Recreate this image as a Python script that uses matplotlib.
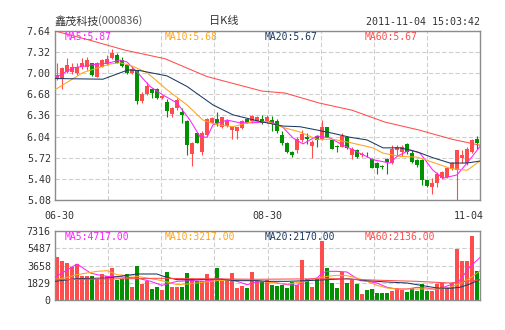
"""
Daily K-line chart for 鑫茂科技 (000836) with price / volume moving averages.
"""
import matplotlib
matplotlib.use("Agg")
import matplotlib.pyplot as plt
import matplotlib.transforms as mtransforms

plt.rcParams['font.family'] = ['DejaVu Sans Mono', 'Noto Sans CJK SC']

STOCK_NAME = "鑫茂科技"
STOCK_CODE = "(000836)"
CHART_TYPE = "日K线"
TIMESTAMP = "2011-11-04 15:03:42"
DATE_LABELS = ["06-30", "08-30", "11-04"]
DATE_POS = [0.4, 42, 85.3]

# daily OHLC, 06-30 .. 11-04
opens = [6.93, 6.91, 7.02, 7.02, 7.00, 7.09, 7.10, 7.15, 6.95, 7.10,
         7.14, 7.23, 7.28, 7.20, 7.12, 7.00, 7.03, 6.58, 6.68, 6.76,
         6.76, 6.62, 6.57, 6.38, 6.47, 6.42, 6.27, 5.78, 6.09, 5.81,
         6.07, 6.25, 6.30, 6.19, 6.20, 6.14, 6.12, 6.17, 6.30, 6.27,
         6.27, 6.31, 6.27, 6.29, 6.28, 6.07, 5.95, 5.80, 5.83, 5.99,
         6.03, 5.90, 6.05, 6.01, 6.18, 5.99, 5.89, 5.89, 6.03, 5.76,
         5.84, 5.76, 5.78, 5.70, 5.64, 5.59, 5.70, 5.64, 5.83, 5.81,
         5.93, 5.79, 5.69, 5.69, 5.38, 5.28, 5.33, 5.41, 5.43, 5.55,
         5.53, 5.71, 5.64, 5.81, 6.00]
highs = [7.16, 7.10, 7.23, 7.15, 7.15, 7.23, 7.25, 7.16, 7.17, 7.22,
         7.28, 7.36, 7.30, 7.25, 7.14, 7.10, 7.05, 6.72, 6.86, 6.77,
         6.77, 6.67, 6.61, 6.49, 6.62, 6.47, 6.29, 5.96, 6.10, 6.12,
         6.32, 6.34, 6.42, 6.34, 6.30, 6.20, 6.19, 6.29, 6.32, 6.37,
         6.35, 6.37, 6.36, 6.35, 6.30, 6.12, 5.96, 5.82, 6.03, 6.14,
         6.09, 5.99, 6.07, 6.29, 6.19, 6.00, 5.92, 6.09, 6.05, 5.89,
         5.85, 5.80, 5.81, 5.71, 5.65, 5.61, 5.71, 5.91, 5.91, 5.92,
         5.94, 5.84, 5.70, 5.70, 5.39, 5.41, 5.51, 5.52, 5.58, 5.65,
         5.84, 5.84, 5.89, 6.01, 6.05]
lows = [6.90, 6.76, 7.00, 6.99, 6.97, 7.06, 7.05, 6.96, 6.94, 7.09,
        7.13, 7.21, 7.15, 7.10, 6.99, 6.99, 6.54, 6.55, 6.67, 6.62,
        6.61, 6.61, 6.34, 6.34, 6.45, 6.24, 5.76, 5.60, 5.94, 5.76,
        6.04, 6.24, 6.20, 6.17, 6.19, 6.00, 6.01, 6.15, 6.24, 6.24,
        6.26, 6.23, 6.24, 6.13, 6.10, 5.92, 5.79, 5.73, 5.79, 5.96,
        5.93, 5.71, 5.88, 5.99, 6.03, 5.85, 5.81, 5.88, 5.86, 5.70,
        5.71, 5.73, 5.73, 5.56, 5.48, 5.55, 5.48, 5.62, 5.74, 5.74,
        5.78, 5.64, 5.58, 5.31, 5.28, 5.17, 5.28, 5.40, 5.42, 5.53,
        5.08, 5.64, 5.61, 5.79, 5.86]
closes = [6.98, 7.08, 7.12, 7.10, 7.10, 7.16, 7.20, 6.97, 7.16, 7.20,
          7.22, 7.31, 7.16, 7.11, 7.00, 7.06, 6.58, 6.68, 6.81, 6.70,
          6.62, 6.66, 6.43, 6.48, 6.60, 6.37, 5.91, 5.95, 5.95, 6.10,
          6.30, 6.32, 6.24, 6.33, 6.28, 6.19, 6.18, 6.28, 6.25, 6.35,
          6.33, 6.25, 6.33, 6.25, 6.12, 5.95, 5.81, 5.76, 6.01, 6.08,
          6.00, 5.96, 5.99, 6.18, 6.04, 5.85, 5.88, 6.05, 5.87, 5.85,
          5.73, 5.77, 5.77, 5.57, 5.56, 5.58, 5.65, 5.86, 5.89, 5.89,
          5.81, 5.66, 5.61, 5.39, 5.29, 5.34, 5.48, 5.51, 5.56, 5.64,
          5.83, 5.76, 5.86, 5.99, 5.94]
volumes = [4558, 4134, 3958, 3498, 3852, 2580, 2509, 2580, 2262, 2756,
           2509, 3392, 2156, 2262, 2756, 1378, 3604, 1696, 2050, 1166,
           1378, 1060, 3004, 1343, 1414, 1378, 2898, 2262, 1979, 1979,
           2756, 2262, 3392, 2050, 2262, 2827, 1272, 1520, 1272, 2933,
           2050, 1908, 2156, 1626, 1449, 1555, 1272, 1908, 1626, 4240,
           2262, 1378, 2262, 6289, 3357, 1802, 1272, 2933, 1802, 2262,
           1696, 636, 1025, 1131, 742, 742, 742, 919, 1272, 1095,
           848, 1272, 919, 1696, 919, 919, 1696, 1802, 1272, 1802,
           5406, 4099, 4170, 6784, 3109]

# moving average lines (bar index, value)
ma5_idx = [-0.4, 3.2, 7.2, 10.6, 12.6, 14, 16, 18.6, 21.2, 24, 26.6, 28.6, 30, 31.2, 34, 36.6, 39.2, 42.6,
           45.2, 47.2, 49.2, 52, 54.6, 57.2, 59.2, 63.2, 66.6, 68, 70.6, 72.6, 75.2, 77.2, 80, 82, 84.6]
ma5_val = [6.93, 7.08, 7.13, 7.16, 7.20, 7.17, 7.02, 6.80, 6.67, 6.55, 6.29, 6.04, 6.03, 6.22, 6.29, 6.25, 6.25, 6.27,
           6.18, 6.02, 5.93, 6.05, 6.02, 5.91, 5.84, 5.69, 5.64, 5.74, 5.84, 5.79, 5.53, 5.41, 5.46, 5.64, 5.89]
ma10_idx = [-0.4, 5.2, 10.6, 12.6, 15, 18, 22, 26, 29.2, 32, 35.2, 39.2, 42, 45.2, 48.6, 52, 55.2,
            58.6, 63.2, 65.2, 68.6, 72, 75.2, 78.6, 82, 84.6]
ma10_val = [6.75, 7.01, 7.14, 7.16, 7.11, 7.01, 6.75, 6.52, 6.29, 6.22, 6.19, 6.27, 6.27, 6.18, 6.11, 6.00, 6.00,
            5.95, 5.87, 5.79, 5.74, 5.73, 5.65, 5.56, 5.53, 5.67]
ma20_idx = [-0.4, 9.2, 14.2, 16.6, 22, 26, 31.2, 35.2, 40.6, 45.2, 48.6, 52, 55.2, 58.6, 62, 65.2,
            68.6, 72, 75.2, 78.6, 82, 84.6]
ma20_val = [6.92, 6.91, 7.05, 7.04, 6.96, 6.80, 6.52, 6.37, 6.27, 6.20, 6.19, 6.14, 6.09, 6.03, 5.99, 5.87,
            5.87, 5.81, 5.72, 5.64, 5.64, 5.67]
ma60_idx = [-0.4, 6.6, 13.6, 21.6, 30, 41, 45.6, 52.4, 59, 65.6, 72.4, 79, 84.6]
ma60_val = [7.64, 7.50, 7.35, 7.22, 6.95, 6.73, 6.70, 6.55, 6.44, 6.26, 6.14, 6.00, 5.91]

vma5_idx = [-0.4, 4, 6.7, 8, 10, 14, 16, 18.7, 21, 22, 24, 26.7, 30, 32, 34, 36, 38, 40, 42, 46,
            48, 50, 52, 53, 54, 56, 58, 59.3, 60.7, 62, 64, 66, 68, 70, 72, 74, 76, 78.6, 80.6, 82.6, 84.6]
vma5_val = [2403, 3816, 2862, 2686, 2509, 2403, 2332, 1979, 1555, 1696, 1979, 2050, 1979, 2262, 2156, 1979,
            1626, 1908, 1979, 1626, 1555, 2156, 2332, 2862, 3039, 3039, 2968, 2509, 2050, 1979, 1802, 1343,
            1166, 1166, 1343, 1272, 1095, 1590, 2120, 3530, 4500]
vma10_idx = [-0.4, 2, 4, 8, 10, 12, 16, 20, 22, 24, 26, 28, 32, 36, 40, 42, 46, 50, 52, 54, 56, 58,
             60, 62, 64, 66, 68, 72, 76, 78.6, 80.6, 82.6, 84.6]
vma10_val = [2156, 2403, 2686, 3039, 3110, 2686, 2509, 2156, 1908, 1626, 1696, 1802, 2050, 2156, 2050, 1900,
             1696, 1979, 2332, 2509, 2615, 2580, 2332, 1979, 1555, 1272, 1166, 1166, 1166, 1346, 1767, 2300, 3100]
vma20_idx = [-0.4, 4, 10, 14, 16, 20, 21.3, 24, 28, 32, 36, 40, 42, 46, 50, 54, 58, 62, 66, 70, 72,
             74, 76, 78.6, 80.6, 82.6, 84.6]
vma20_val = [1979, 2262, 2332, 2615, 2756, 2756, 2509, 2156, 2156, 2226, 2050, 2050, 1979, 1979, 2050, 2156,
             2262, 2050, 1908, 1802, 1626, 1449, 1272, 1240, 1346, 1696, 2170]
vma60_idx = [-0.4, 20, 40, 56, 64, 72, 78.6, 84.6]
vma60_val = [2156, 2300, 2200, 2260, 2100, 1980, 1800, 2136]

price_ticks = [7.64, 7.32, 7.00, 6.68, 6.36, 6.04, 5.72, 5.40, 5.08]
vol_ticks = [7316, 5487, 3658, 1829, 0]
price_labels = ["MA5:5.87", "MA10:5.68", "MA20:5.67", "MA60:5.67"]
vol_labels = ["MA5:4717.00", "MA10:3217.00", "MA20:2170.00", "MA60:2136.00"]

UP = '#ff4d4d'
DOWN = '#009000'
MA_COLORS = ['#ff22ff', '#ffa31a', '#1a3a63', '#ff4d4d']
FRAME = '#8c8c8c'
GRID = '#cfcfcf'
TEXT = '#333333'

W, H = 505, 330
XLIM = (-0.4, 84.6)
vgrid = [XLIM[0] + 10.625 * k for k in range(1, 8)]


def style_panel(ax, ticks):
    ax.set_xlim(*XLIM)
    ax.set_ylim(ticks[-1], ticks[0])
    ax.set_yticks(ticks)
    ax.set_xticks(vgrid)
    ax.set_xticklabels([])
    ax.grid(True, color=GRID, linestyle=(0, (4, 2)), linewidth=0.8)
    ax.set_axisbelow(True)
    ax.tick_params(axis='both', length=0)
    ax.tick_params(axis='y', pad=3, labelsize=7.2, labelcolor=TEXT)
    for s in ax.spines.values():
        s.set_color(FRAME)
        s.set_linewidth(1.0)


fig = plt.figure(figsize=(W / 100, H / 100), dpi=100)
ax = fig.add_axes([55 / W, 1 - 200 / H, 425 / W, 169 / H])
axv = fig.add_axes([55 / W, 1 - 300 / H, 425 / W, 69 / H])

idx = list(range(len(closes)))
colors = [UP if c >= o else DOWN for o, c in zip(opens, closes)]

# candles
ax.vlines(idx, lows, highs, colors=colors, linewidth=0.8, zorder=2)
bottoms = [min(o, c) for o, c in zip(opens, closes)]
heights = [max(abs(c - o), 0.012) for o, c in zip(opens, closes)]
ax.bar(idx, heights, bottom=bottoms, width=0.8, color=colors, linewidth=0, zorder=3)

for xs, ys, col in zip([ma5_idx, ma10_idx, ma20_idx, ma60_idx],
                       [ma5_val, ma10_val, ma20_val, ma60_val], MA_COLORS):
    ax.plot(xs, ys, color=col, linewidth=0.75, zorder=4)
style_panel(ax, price_ticks)

# volume
axv.bar(idx, volumes, width=0.8, color=colors, linewidth=0, zorder=2)
for xs, ys, col in zip([vma5_idx, vma10_idx, vma20_idx, vma60_idx],
                       [vma5_val, vma10_val, vma20_val, vma60_val], MA_COLORS):
    axv.plot(xs, ys, color=col, linewidth=0.75, zorder=4)
style_panel(axv, vol_ticks)

# MA legends inside panels
for k, (lbl, col) in enumerate(zip(price_labels, MA_COLORS)):
    fig.text((65 + 100 * k) / W, 1 - 37 / H, lbl, color=col, fontsize=7, va='center')
for k, (lbl, col) in enumerate(zip(vol_labels, MA_COLORS)):
    fig.text((65 + 100 * k) / W, 1 - 237 / H, lbl, color=col, fontsize=7, va='center')

# date labels between panels
trans = mtransforms.blended_transform_factory(ax.transData, ax.transAxes)
for pos, lbl, ha in zip(DATE_POS, DATE_LABELS, ['center', 'center', 'right']):
    ax.text(pos, -16 / 169, lbl, transform=trans, ha=ha, va='center', fontsize=7.2, color=TEXT)

# header
fig.text(55 / W, 1 - 21 / H, STOCK_NAME, family=['Noto Sans CJK SC'], fontsize=8, color=TEXT, va='center')
fig.text(98 / W, 1 - 21 / H, STOCK_CODE, family=['Noto Sans CJK SC'], fontsize=8, color='#555555', va='center')
fig.text(224 / W, 1 - 21 / H, CHART_TYPE, family=['Noto Sans CJK SC'], fontsize=8, color=TEXT,
         ha='center', va='center')
fig.text(480 / W, 1 - 22 / H, TIMESTAMP, fontsize=7.2, color=TEXT, ha='right', va='center')

fig.savefig("out.png", dpi=100)
